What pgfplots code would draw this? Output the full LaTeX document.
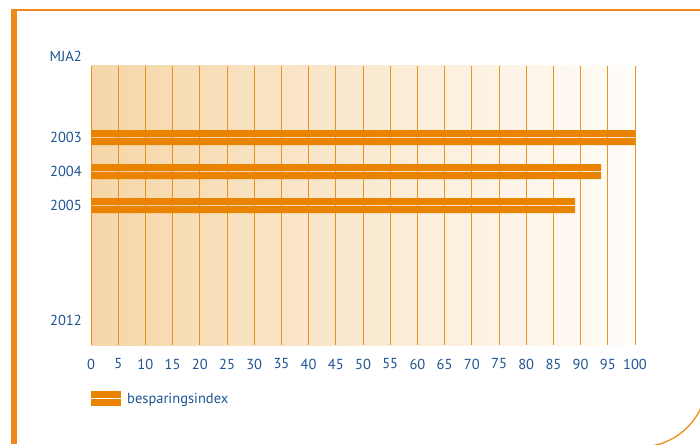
\documentclass[border=0pt]{standalone}
\usepackage{pgfplots}
\pgfplotsset{compat=1.18}
\usepackage{fontspec}
\setmainfont{PT Sans}

\definecolor{mjaorange}{HTML}{E98300}
\definecolor{frameorange}{HTML}{EE8A1A}
\definecolor{textblue}{HTML}{1F5592}
\definecolor{bgleft}{HTML}{F5D6A8}
\definecolor{bgright}{HTML}{FFFDFA}

\newcommand{\lblfont}{\fontsize{14.5}{16}\selectfont}

\begin{document}
\begin{tikzpicture}[x=1pt,y=1pt]
\useasboundingbox (0pt,0pt) rectangle (700pt,444pt);
\fill[white] (0pt,0pt) rectangle (700pt,444pt);

% page frame: thick left rule, thin top rule, rounded corner bottom right
\begin{scope}
  \clip (0pt,0pt) rectangle (700pt,444pt);
  \fill[frameorange] (11pt,0pt) rectangle (16.7pt,434.5pt);
  \draw[frameorange, line width=1.4pt] (11pt,433.8pt) -- (700pt,433.8pt);
  \draw[frameorange, line width=1.3pt] (640pt,64pt) ++(-100:67pt) arc[start angle=-100, end angle=10, radius=67pt];
\end{scope}

\begin{axis}[
  at={(91pt,99pt)}, anchor=south west,
  width=544pt, height=279pt, scale only axis,
  xmin=0, xmax=100, ymin=66, ymax=345, y dir=reverse,
  clip=false,
  xtick={0,5,...,100},
  ytick={137.5,171.6,205.5,320},
  yticklabels={2003,2004,2005,2012},
  /pgf/number format/assume math mode=true,
  xmajorgrids,
  grid style={mjaorange, line width=0.9pt, opacity=0.85},
  axis line style={draw=none},
  major tick length=0pt,
  axis background/.style={left color=bgleft, right color=bgright},
  tick label style={font=\lblfont, text=textblue, inner sep=0pt},
  xticklabel style={anchor=north, yshift=-13.5pt},
  yticklabel style={anchor=east, xshift=-9pt},
  legend style={at={(axis description cs:0,-0.1935)}, anchor=west,
    draw=none, fill=none, inner sep=0pt, font=\lblfont, text=textblue,
    column sep=4pt, legend cell align=left},
  legend image code/.code={
    \fill[mjaorange] (0pt,0.5pt) rectangle (30pt,7.5pt);
    \fill[mjaorange] (0pt,-0.5pt) rectangle (30pt,-7.5pt);
  },
]
% each bar is drawn as two stripes with a thin white gap between them
\addplot[xbar, bar width=7pt, bar shift=0pt, fill=mjaorange, draw=none]
  coordinates {(100,133.5) (93.75,167.6) (89,201.5)};
\addlegendentry{besparingsindex}
\addplot[xbar, bar width=7pt, bar shift=0pt, fill=mjaorange, draw=none, forget plot]
  coordinates {(100,141.5) (93.75,175.6) (89,209.5)};

\node[anchor=east, inner sep=0pt, font=\lblfont, text=textblue, xshift=-9pt]
  at (axis cs:0,56.7) {MJA2};
\end{axis}
\end{tikzpicture}
\end{document}
